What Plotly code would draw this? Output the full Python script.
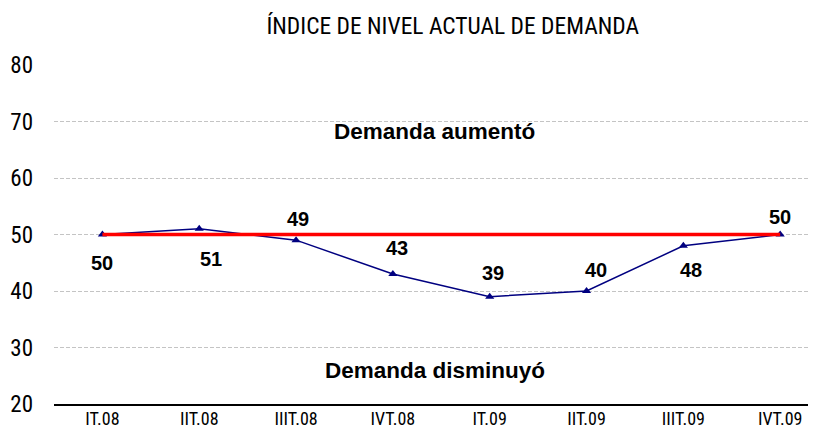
import plotly.graph_objects as go

categories = ["IT.08", "IIT.08", "IIIT.08", "IVT.08", "IT.09", "IIT.09", "IIIT.09", "IVT.09"]
demand_index = [50, 51, 49, 43, 39, 40, 48, 50]
threshold = [50, 50, 50, 50, 50, 50, 50, 50]
y_ticks = [20, 30, 40, 50, 60, 70, 80]

title_text = "ÍNDICE DE NIVEL ACTUAL DE DEMANDA"
upper_note = "Demanda aumentó"
lower_note = "Demanda disminuyó"

# label offsets (pixels) for the data labels
label_dx = [0, 12, 2, 4, 3, 9, 8, 0]
label_dy = [-28, -30, 21, 26, 24, 21, -24, 18]

NARROW = "Roboto Condensed, Liberation Sans Narrow, Arial Narrow, sans-serif"
BOLD = "Liberation Sans, Arial, sans-serif"

fig = go.Figure()
fig.add_trace(go.Scatter(
    x=categories, y=demand_index, mode="lines+markers",
    line=dict(color="#000080", width=1.5),
    marker=dict(symbol="triangle-up", size=8, color="#000080"),
    showlegend=False))
fig.add_trace(go.Scatter(
    x=categories, y=threshold, mode="lines",
    line=dict(color="#ff0000", width=3.5), hoverinfo="skip", showlegend=False))

for i, (c, v) in enumerate(zip(categories, demand_index)):
    fig.add_annotation(x=c, y=v, text=f"<b>{v}</b>", showarrow=False,
                       xshift=label_dx[i], yshift=label_dy[i],
                       font=dict(family=BOLD, size=20, color="#000000"))

fig.add_annotation(x=3.43, y=68.3, text=f"<b>{upper_note}</b>", showarrow=False,
                   font=dict(family=BOLD, size=22.5, color="#000000"))
fig.add_annotation(x=3.43, y=26.0, text=f"<b>{lower_note}</b>", showarrow=False,
                   font=dict(family=BOLD, size=22.5, color="#000000"))

# page body has an 8px default margin; margins compensate for it
fig.update_layout(
    width=816, height=440,
    margin=dict(l=46, r=8, t=57, b=44, autoexpand=False),
    paper_bgcolor="white", plot_bgcolor="white",
    title=dict(text=title_text, x=0.545, xanchor="center", xref="container",
               y=0.959, yanchor="middle",
               font=dict(family=NARROW, size=23.5, color="#000000")),
    xaxis=dict(type="category", range=[-0.5, 7.37], showgrid=False,
               showline=True, linecolor="#000000", linewidth=2,
               ticks="", ticklabelstandoff=-3, automargin=False,
               tickfont=dict(family=NARROW, size=18, color="#000000"),
               zeroline=False, fixedrange=True),
    yaxis=dict(range=[20, 80], tickvals=y_ticks, showgrid=True,
               gridcolor="#c4c4c4", griddash="4px,2px", gridwidth=1,
               showline=False, zeroline=False, ticks="",
               ticklabelstandoff=20, automargin=False,
               tickfont=dict(family=NARROW, size=23, color="#000000"),
               fixedrange=True),
)

fig.write_html("out.html")
